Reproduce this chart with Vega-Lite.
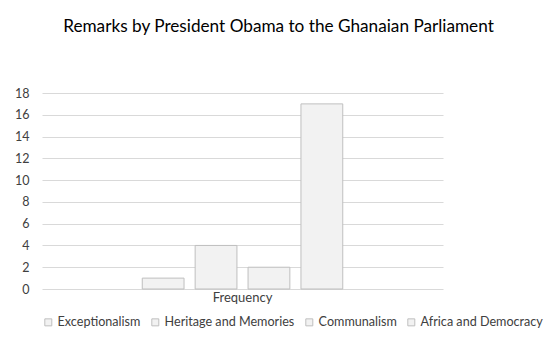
{
  "$schema": "https://vega.github.io/schema/vega-lite/v6.json",
  "autosize": {"type": "none"},
  "padding": {"left": 42, "top": 93, "right": 115, "bottom": 49},
  "width": 401,
  "height": 196,
  "background": "white",
  "title": {
    "text": "Remarks by President Obama to the Ghanaian Parliament",
    "font": "Lato",
    "fontSize": 17.2,
    "fontWeight": "normal",
    "color": "#000000",
    "anchor": "middle",
    "dx": 36,
    "offset": 52
  },
  "data": {
    "values": [
      {"category": "Frequency", "series": "Exceptionalism", "value": 1},
      {"category": "Frequency", "series": "Heritage and Memories", "value": 4},
      {"category": "Frequency", "series": "Communalism", "value": 2},
      {"category": "Frequency", "series": "Africa and Democracy", "value": 17}
    ]
  },
  "mark": {"type": "bar", "fill": "#f2f2f2", "stroke": "#bfbfbf", "strokeWidth": 1},
  "encoding": {
    "x": {
      "field": "category",
      "type": "nominal",
      "scale": {"paddingInner": 0, "paddingOuter": 0.5},
      "axis": {
        "title": null,
        "labelAngle": 0,
        "domain": false,
        "ticks": false,
        "labelFont": "Lato",
        "labelFontSize": 13,
        "labelColor": "#404040",
        "labelPadding": 2
      }
    },
    "xOffset": {
      "field": "series",
      "type": "nominal",
      "sort": ["Exceptionalism", "Heritage and Memories", "Communalism", "Africa and Democracy"],
      "scale": {"paddingInner": 0.21, "paddingOuter": 0}
    },
    "y": {
      "field": "value",
      "type": "quantitative",
      "scale": {"domain": [0, 18], "nice": false},
      "axis": {
        "title": null,
        "values": [0, 2, 4, 6, 8, 10, 12, 14, 16, 18],
        "domain": false,
        "ticks": false,
        "grid": true,
        "gridColor": "#d9d9d9",
        "gridWidth": 1,
        "labelFont": "Lato",
        "labelFontSize": 12.5,
        "labelColor": "#404040",
        "labelPadding": 13
      }
    },
    "color": {
      "field": "series",
      "type": "nominal",
      "sort": ["Exceptionalism", "Heritage and Memories", "Communalism", "Africa and Democracy"],
      "scale": {"range": ["#f2f2f2", "#f2f2f2", "#f2f2f2", "#f2f2f2"]},
      "legend": {
        "title": null,
        "orient": "none",
        "legendX": 0,
        "legendY": 223,
        "direction": "horizontal",
        "columns": 4,
        "symbolType": "square",
        "symbolSize": 49,
        "symbolStrokeColor": "#bfbfbf",
        "symbolStrokeWidth": 1,
        "symbolFillColor": "#f2f2f2",
        "labelFont": "Lato",
        "labelFontSize": 12.6,
        "labelColor": "#404040",
        "labelOffset": 3,
        "columnPadding": 8
      }
    }
  },
  "config": {
    "view": {"stroke": null},
    "axis": {"gridColor": "#d9d9d9"}
  }
}
